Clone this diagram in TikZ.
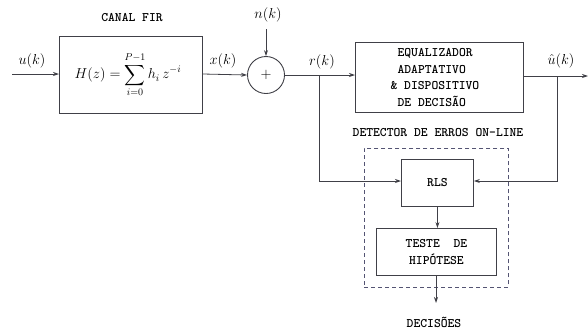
\documentclass[tikz,border=0pt]{standalone}
\usepackage{fontspec}
\usepackage{amsmath}
\usetikzlibrary{arrows.meta}
\definecolor{lincol}{rgb}{0.25,0.25,0.28}
\definecolor{dashcol}{rgb}{0.33,0.33,0.45}
\newcommand{\labstyle}{\ttfamily\bfseries\addfontfeature{LetterSpace=20}\fontsize{13}{16.7}\selectfont}
\tikzset{
  blk/.style={draw=lincol, line width=0.9pt, fill=white},
  wire/.style={draw=lincol, line width=0.8pt},
  arr/.style={wire, -{Stealth[length=6pt,width=4pt]}},
  tlab/.style={font=\labstyle, inner sep=0pt, align=center},
  mlab/.style={font=\fontsize{14}{16}\selectfont, inner sep=0pt},
}
\begin{document}
\begin{tikzpicture}[x=1pt,y=-1pt]
\useasboundingbox (0,0) rectangle (588,330);
% FIR block
\node[blk, minimum width=143pt, minimum height=77pt, anchor=north west] (fir) at (59,36) {};
\node[mlab] (firtxt) at ([xshift=-3pt]fir.center) {$\displaystyle H(z)=\sum_{i=0}^{P-1} h_i\,z^{-i}$};
\node[tlab] (canal) at (132,18) {CANAL FIR};
% input
\coordinate (uin) at (12,74);
\draw[arr] (uin) -- (uin -| fir.west);
\node[mlab] (ulab) at (32,61) {$u(k)$};
% summer
\node[draw=lincol, line width=0.9pt, circle, minimum size=37pt, inner sep=0pt] (sum) at (266,75) {};
\node[mlab] (plus) at (sum.center) {$+$};
\draw[arr] (fir.east |- uin) -- (sum.west);
\node[mlab] (xlab) at (223,61) {$x(k)$};
\coordinate (ntop) at (266,29);
\draw[arr] (ntop) -- (sum.north);
\node[mlab] (nlab) at (268,15) {$n(k)$};
% equalizer
\node[blk, minimum width=168pt, minimum height=70pt, anchor=north west] (eq) at (355,42) {};
\node[tlab, align=left] (eqtxt) at ([xshift=-1pt]eq.center) {EQUALIZADOR\\ADAPTATIVO\\\hspace{-7pt}\&\ DISPOSITIVO\\DE DECISÃO};
\draw[arr] (sum.east) -- (sum.east -| eq.west);
\node[mlab] (rlab) at (322,62) {$r(k)$};
\coordinate (yout) at (588,76);
\draw[arr] (eq.east |- yout) -- (yout);
\node[mlab] (uhlab) at (561,61) {$\hat{u}(k)$};
% detector
\node[tlab] (det) at (438,133) {DETECTOR DE ERROS ON-LINE};
\node[draw=dashcol, line width=0.9pt, dash pattern=on 4pt off 3pt, minimum width=144pt, minimum height=139pt, anchor=north west] (dbox) at (364,148) {};
\node[blk, minimum width=72pt, minimum height=47pt, anchor=north west] (rls) at (401,159) {};
\node[tlab] (rlstxt) at (rls.center) {RLS};
\node[blk, minimum width=120pt, minimum height=47pt, anchor=north west] (teste) at (376,228) {};
\node[tlab] (testetxt) at (teste.center) {TESTE\ \ DE\\HIPÓTESE};
\coordinate (bl) at (319,76);
\coordinate (br) at (557,76);
\coordinate (fb) at (0,181);
\draw[arr] (bl) -- (bl |- fb) -- (fb -| rls.west);
\draw[arr] (br) -- (br |- fb) -- (fb -| rls.east);
\draw[arr] (rls.south) -- (rls.south |- teste.north);
\coordinate (dout) at (436,303);
\draw[arr] (teste.south -| dout) -- (dout);
\node[tlab] (dec) at (434,322) {DECISÕES};
\end{tikzpicture}
\end{document}
